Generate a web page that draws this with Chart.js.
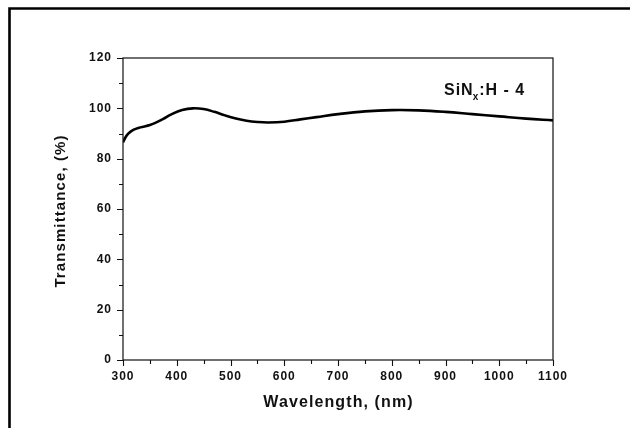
<!DOCTYPE html>
<html>
<head>
<meta charset="utf-8">
<script src="https://cdn.jsdelivr.net/npm/chart.js@4.4.1/dist/chart.umd.min.js"></script>
<style>
  html, body { margin: 0; padding: 0; background: #fff; }
  #wrap { position: relative; width: 630px; height: 428px; }
</style>
</head>
<body>
<div id="wrap"><canvas id="c" width="630" height="428"></canvas></div>
<script>
// Data
const wavelength = [300, 305, 310, 320, 330, 340, 350, 360, 375, 390, 410, 430, 450, 470, 490, 510, 530, 550, 570, 600, 630, 660, 700, 750, 800, 850, 900, 950, 1000, 1050, 1100];
const transmittance = [86.5, 88.6, 90.0, 91.5, 92.3, 92.8, 93.4, 94.2, 95.8, 97.6, 99.3, 100.0, 99.7, 98.6, 97.2, 96.0, 95.1, 94.6, 94.4, 94.7, 95.6, 96.5, 97.7, 98.8, 99.3, 99.2, 98.6, 97.7, 96.8, 95.9, 95.2];
const xTickValues = [300, 400, 500, 600, 700, 800, 900, 1000, 1100];
const yTickValues = [0, 20, 40, 60, 80, 100, 120];
const xTitle = 'Wavelength, (nm)';
const yTitle = 'Transmittance, (%)';
const sampleLabel = { main: 'SiN', sub: 'x', rest: ':H - 4' };

const FONT = '"Liberation Sans", Arial, sans-serif';

const decor = {
  id: 'decor',
  beforeDraw(chart) {
    chart.ctx.letterSpacing = '1px';
  },
  afterDraw(chart) {
    const ctx = chart.ctx;
    const a = chart.chartArea;
    const xs = chart.scales.x, ys = chart.scales.y;
    ctx.save();
    // outer frame
    ctx.strokeStyle = '#000';
    ctx.lineWidth = 2.6;
    ctx.beginPath();
    ctx.moveTo(9.5, 440);
    ctx.lineTo(9.5, 8.5);
    ctx.lineTo(640, 8.5);
    ctx.stroke();
    // plot box
    ctx.lineWidth = 1.2;
    ctx.strokeStyle = '#111';
    ctx.strokeRect(a.left, a.top, a.right - a.left, a.bottom - a.top);
    // ticks (major + minor), outward
    ctx.lineWidth = 1.1;
    ctx.beginPath();
    for (let v = 300; v <= 1100; v += 50) {
      const px = Math.round(xs.getPixelForValue(v)) + 0.5;
      const len = (v % 100 === 0) ? 6 : 4;
      ctx.moveTo(px, a.bottom);
      ctx.lineTo(px, a.bottom + len);
    }
    for (let v = 0; v <= 120; v += 10) {
      const py = Math.round(ys.getPixelForValue(v)) + 0.5;
      const len = (v % 20 === 0) ? 6 : 4;
      ctx.moveTo(a.left, py);
      ctx.lineTo(a.left - len, py);
    }
    ctx.stroke();
    // axis titles
    ctx.fillStyle = '#111';
    ctx.letterSpacing = '1.1px';
    ctx.font = 'bold 16px ' + FONT;
    ctx.textAlign = 'center';
    ctx.textBaseline = 'alphabetic';
    ctx.fillText(xTitle, (a.left + a.right) / 2 + 0.5, 407);
    ctx.save();
    ctx.font = 'bold 15px ' + FONT;
    ctx.translate(65, (a.top + a.bottom) / 2 + 2);
    ctx.rotate(-Math.PI / 2);
    ctx.fillText(yTitle, 0, 0);
    ctx.restore();
    // sample label
    ctx.textAlign = 'left';
    ctx.letterSpacing = '1px';
    let x = 444, y = 94.5;
    ctx.font = 'bold 16px ' + FONT;
    ctx.fillText(sampleLabel.main, x, y);
    x += ctx.measureText(sampleLabel.main).width;
    ctx.font = 'bold 10px ' + FONT;
    ctx.fillText(sampleLabel.sub, x - 1, y + 5);
    x += ctx.measureText(sampleLabel.sub).width - 1;
    ctx.font = 'bold 16px ' + FONT;
    ctx.fillText(sampleLabel.rest, x, y);
    ctx.restore();
  }
};

new Chart(document.getElementById('c'), {
  type: 'line',
  data: {
    datasets: [{
      data: wavelength.map((w, i) => ({ x: w, y: transmittance[i] })),
      borderColor: '#000',
      borderWidth: 2.6,
      pointRadius: 0,
      tension: 0.4,
      fill: false
    }]
  },
  options: {
    responsive: false,
    animation: false,
    events: [],
    layout: { padding: { top: 58, right: 77, left: 0, bottom: 0 } },
    plugins: { legend: { display: false }, tooltip: { enabled: false } },
    scales: {
      x: {
        type: 'linear',
        min: 300, max: 1100,
        afterBuildTicks: s => { s.ticks = xTickValues.map(v => ({ value: v })); },
        afterFit: s => { s.height = 68; },
        grid: { display: false, drawTicks: false },
        border: { display: false },
        ticks: { padding: 9, color: '#111', font: { family: FONT, weight: 'bold', size: 12 }, maxRotation: 0, autoSkip: false, callback: v => String(v) }
      },
      y: {
        type: 'linear',
        min: 0, max: 120,
        afterBuildTicks: s => { s.ticks = yTickValues.map(v => ({ value: v })); },
        afterFit: s => { s.width = 123; },
        grid: { display: false, drawTicks: false },
        border: { display: false },
        ticks: { padding: 11, color: '#111', font: { family: FONT, weight: 'bold', size: 12 }, autoSkip: false, callback: v => String(v) }
      }
    }
  },
  plugins: [decor]
});
</script>
</body>
</html>
